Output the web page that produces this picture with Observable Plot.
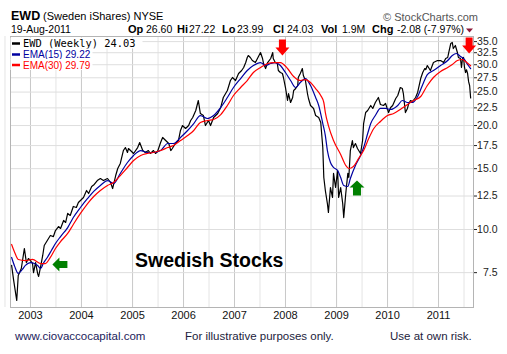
<!DOCTYPE html>
<html><head><meta charset="utf-8">
<script src="https://cdn.jsdelivr.net/npm/d3@7"></script>
<script src="https://cdn.jsdelivr.net/npm/@observablehq/plot@0.6"></script>
<style>
body{margin:0;background:#fff;}
#wrap{position:relative;width:507px;height:354px;overflow:hidden;}
</style></head><body><div id="wrap"></div>
<script>
// ---- data (dates as decimal years) ----
const priceDates = [
 2002.63,2002.67,2002.73,2002.76,2002.82,2002.88,2002.92,2002.96,
 2003.00,2003.04,2003.06,2003.10,2003.14,2003.16,2003.20,2003.24,2003.27,2003.33,2003.39,2003.45,2003.49,2003.55,2003.59,2003.65,2003.69,2003.73,2003.78,2003.84,2003.90,2003.94,2003.98,
 2004.04,2004.10,2004.14,2004.20,2004.25,2004.31,2004.37,2004.43,2004.51,2004.57,2004.61,2004.67,2004.71,2004.76,2004.82,2004.86,2004.90,2004.92,2004.96,
 2005.02,2005.10,2005.14,2005.20,2005.25,2005.31,2005.35,2005.41,2005.45,2005.49,2005.55,2005.59,2005.65,2005.71,2005.75,2005.78,2005.84,2005.90,2005.94,2005.98,
 2006.04,2006.10,2006.14,2006.18,2006.24,2006.29,2006.33,2006.39,2006.43,2006.49,2006.53,2006.59,2006.67,2006.73,2006.78,2006.86,2006.92,2006.96,
 2007.02,2007.08,2007.14,2007.18,2007.22,2007.25,2007.27,2007.31,2007.35,2007.41,2007.45,2007.51,2007.55,2007.57,2007.61,2007.65,2007.71,2007.75,2007.76,2007.80,2007.84,2007.86,2007.90,2007.94,2007.96,
 2008.00,2008.04,2008.06,2008.10,2008.14,2008.16,2008.20,2008.24,2008.25,2008.29,2008.33,2008.35,2008.39,2008.43,2008.45,2008.49,2008.53,2008.55,2008.59,2008.65,2008.69,2008.73,2008.75,2008.78,2008.82,2008.84,2008.88,2008.92,2008.94,2008.98,
 2009.02,2009.04,2009.08,2009.12,2009.14,2009.18,2009.22,2009.24,2009.27,2009.31,2009.33,2009.37,2009.41,2009.47,2009.51,2009.53,2009.57,2009.61,2009.67,2009.71,2009.76,2009.82,2009.86,2009.92,2009.96,
 2010.02,2010.06,2010.10,2010.16,2010.20,2010.25,2010.29,2010.31,2010.35,2010.39,2010.41,2010.45,2010.49,2010.55,2010.59,2010.65,2010.69,2010.73,2010.75,2010.78,2010.84,2010.90,2010.94,2010.98,
 2011.04,2011.10,2011.14,2011.18,2011.20,2011.24,2011.27,2011.29,2011.33,2011.37,2011.39,2011.43,2011.45,2011.47,2011.49,2011.51,2011.53,2011.55,2011.57,2011.59,2011.61,2011.63
];
const priceValues = [
 7.87,7.12,6.23,7.36,7.71,8.81,8.02,8.24,
 8.13,7.97,7.50,8.02,7.46,7.31,7.82,8.41,8.99,9.29,9.61,9.54,9.93,10.20,10.07,10.62,10.48,11.13,10.98,11.66,11.58,11.97,12.13,
 12.38,12.97,12.71,13.32,13.50,13.86,14.05,13.86,14.05,13.68,13.14,14.33,15.02,15.53,16.93,17.27,16.71,17.16,16.93,
 16.60,17.27,17.86,16.93,16.71,16.93,16.60,16.93,16.60,16.82,17.86,18.47,18.10,17.74,16.93,17.16,17.74,18.10,19.35,20.00,
 19.61,20.00,20.68,21.10,22.11,23.63,21.67,21.38,20.00,20.68,20.00,21.10,21.67,22.56,24.11,25.26,27.00,27.55,
 27.00,28.29,28.86,29.45,30.44,31.48,31.90,31.48,30.85,30.44,31.27,32.54,31.27,30.24,29.25,30.44,31.27,32.54,31.27,30.44,30.24,28.86,28.48,28.29,27.55,
 25.77,23.63,24.76,23.32,24.11,25.26,25.60,26.12,27.55,28.29,29.25,27.92,27.00,24.76,23.95,22.86,22.56,22.41,21.38,21.10,20.41,17.27,14.14,12.97,11.89,11.20,13.23,12.38,14.53,13.23,
 14.82,12.38,13.23,11.89,10.83,12.71,14.53,14.14,16.93,18.10,17.27,17.74,17.16,16.60,18.10,20.27,21.81,22.11,22.86,22.41,23.32,24.11,23.01,22.86,23.17,
 21.81,22.56,22.86,23.95,24.43,25.77,25.60,24.76,21.81,22.41,23.01,23.63,23.47,24.11,24.93,27.36,28.48,29.25,29.05,29.84,28.86,30.44,30.64,30.85,
 30.85,30.44,31.27,31.48,32.54,34.56,34.79,33.42,34.10,32.54,31.48,31.27,29.45,31.27,31.48,29.45,28.48,29.00,28.30,26.80,26.11,24.03
];
const ema15Dates = [
 2002.63,2002.69,2002.76,2002.84,2002.90,
 2003.00,2003.08,2003.14,2003.20,2003.25,2003.33,2003.41,2003.49,2003.59,2003.73,2003.84,2003.98,
 2004.12,2004.24,2004.37,2004.51,2004.63,2004.76,2004.90,
 2005.02,2005.16,2005.29,2005.41,2005.55,2005.69,2005.80,2005.94,
 2006.08,2006.20,2006.33,2006.47,2006.59,2006.73,2006.86,2006.98,
 2007.12,2007.25,2007.37,2007.51,2007.61,2007.71,2007.80,2007.90,
 2008.00,2008.10,2008.20,2008.29,2008.39,2008.49,2008.59,2008.65,2008.73,2008.78,2008.82,2008.88,2008.94,
 2009.02,2009.08,2009.14,2009.22,2009.27,2009.37,2009.47,2009.53,2009.61,2009.67,2009.76,2009.86,2009.96,
 2010.06,2010.20,2010.29,2010.39,2010.49,2010.59,2010.69,2010.78,2010.90,
 2011.04,2011.18,2011.27,2011.35,2011.43,2011.51,2011.57,2011.63
];
const ema15Values = [
 8.30,7.82,7.46,7.66,7.87,
 8.02,7.97,7.87,7.71,7.97,8.30,8.69,9.11,9.54,10.13,10.83,11.58,
 12.30,12.89,13.41,13.86,13.59,14.53,15.63,
 16.38,16.93,16.71,16.71,16.93,17.74,17.74,18.47,
 19.35,20.27,21.38,20.96,21.38,22.56,24.11,25.77,
 27.36,28.86,29.84,30.44,29.84,30.24,30.44,29.84,
 28.48,27.00,25.77,26.65,27.36,26.12,24.11,22.86,20.27,18.71,16.93,15.63,15.12,
 14.82,14.14,13.41,13.32,14.05,15.32,16.38,17.27,18.96,20.27,21.38,22.41,22.41,
 22.26,22.86,23.63,23.32,23.32,24.27,26.30,28.10,28.86,
 29.84,30.85,31.90,32.33,31.69,31.06,30.04,29.22
];
const ema30Dates = [
 2002.63,2002.69,2002.76,2002.90,
 2003.04,2003.20,2003.29,2003.39,2003.49,2003.59,2003.73,2003.84,2003.98,
 2004.12,2004.24,2004.37,2004.51,2004.63,2004.76,2004.90,
 2005.02,2005.16,2005.29,2005.41,2005.55,2005.69,2005.80,2005.94,
 2006.08,2006.20,2006.33,2006.47,2006.59,2006.73,2006.86,2006.98,
 2007.12,2007.25,2007.37,2007.51,2007.65,2007.76,2007.90,
 2008.04,2008.16,2008.29,2008.39,2008.49,2008.59,2008.69,2008.75,2008.78,2008.84,2008.94,
 2009.08,2009.18,2009.24,2009.33,2009.43,2009.53,2009.63,2009.73,2009.86,
 2010.00,2010.12,2010.25,2010.39,2010.51,2010.65,2010.78,2010.90,
 2011.04,2011.18,2011.27,2011.37,2011.47,2011.53,2011.63
];
const ema30Values = [
 9.05,8.58,8.19,8.13,
 8.19,7.97,7.97,8.30,8.81,9.23,9.74,10.34,11.13,
 11.89,12.46,12.97,13.41,13.68,14.33,15.12,
 15.84,16.38,16.60,16.71,16.93,17.27,17.51,18.10,
 18.71,19.35,20.41,20.68,20.82,21.52,22.86,24.43,
 25.77,27.00,28.48,29.45,30.24,30.44,30.44,
 29.25,27.73,27.00,27.18,26.65,25.60,24.43,23.32,21.81,20.00,18.10,
 16.49,15.32,15.02,15.22,16.05,16.93,18.34,19.61,20.55,
 21.38,21.67,22.26,23.01,23.63,24.27,26.12,27.55,
 28.67,29.45,30.04,30.85,31.06,30.64,29.79
];
const yTicks = [7.5,10,12.5,15,17.5,20,22.5,25,27.5,30,32.5,35];
const yearTicks = [2003,2004,2005,2006,2007,2008,2009,2010,2011];
const midYearTicks = [2002.5,2003.5,2004.5,2005.5,2006.5,2007.5,2008.5,2009.5,2010.5,2011.5];
const downArrowDates = [2007.94, 2011.60];
const downArrowValues = [31.9, 32.33];
const upArrowDates = [2009.40];
const upArrowValues = [13.86];
const leftArrowDates = [2003.43];
const leftArrowValues = [7.92];
const xDomain = [2002.608, 2011.686];
const yDomain = [5.945, 36.21];

// ---- helpers ----
const dy = t => { const y = Math.floor(t + 1e-9); const a = Date.UTC(y,0,1), b = Date.UTC(y+1,0,1); return new Date(a + (t - y) * (b - a)); };
const rows = (ts, vs) => ts.map((t, i) => ({date: dy(t), value: vs[i]}));

const downArrow = {draw(c){c.moveTo(0,0);c.lineTo(-7,-8);c.lineTo(-3.5,-8);c.lineTo(-3.5,-16);c.lineTo(3.5,-16);c.lineTo(3.5,-8);c.lineTo(7,-8);c.closePath();}};
const upArrow = {draw(c){c.moveTo(0,0);c.lineTo(-7.5,7);c.lineTo(-4,7);c.lineTo(-4,15);c.lineTo(4,15);c.lineTo(4,7);c.lineTo(7.5,7);c.closePath();}};
const leftArrow = {draw(c){c.moveTo(0,0);c.lineTo(7,-7);c.lineTo(7,-3.5);c.lineTo(15,-3.5);c.lineTo(15,3.5);c.lineTo(7,3.5);c.lineTo(7,7);c.closePath();}};

const FONT = "'Liberation Sans', Arial, sans-serif";

const svg = Plot.plot({
  width: 507, height: 354,
  marginLeft: 10, marginRight: 34, marginTop: 36, marginBottom: 47,
  style: {fontFamily: FONT, background: "#fff", overflow: "visible"},
  x: {type: "utc", domain: xDomain.map(dy)},
  y: {type: "log", domain: yDomain},
  marks: [
    Plot.ruleX(midYearTicks.map(dy), {stroke: "#e4e4e4"}),
    Plot.ruleX(yearTicks.map(dy), {stroke: "#c8c8c8"}),
    Plot.ruleY(yTicks, {stroke: "#dedede"}),
    Plot.frame({stroke: "#b4b4b4"}),
    Plot.axisY(yTicks, {anchor: "right", label: null, tickFormat: d => d.toFixed(1), tickSize: 3, tickPadding: 21, textAnchor: "end", fontSize: 10.5, color: "#222"}),
    Plot.axisX(yearTicks.map(dy), {label: null, tickFormat: d => String(d.getUTCFullYear()), tickSize: 0, tickPadding: 4, fontSize: 11, color: "#111"}),
    Plot.line(rows(priceDates, priceValues), {x: "date", y: "value", stroke: "#000", strokeWidth: 1.2}),
    Plot.line(rows(ema15Dates, ema15Values), {x: "date", y: "value", stroke: "#0000a0", strokeWidth: 1.2, curve: "monotone-x"}),
    Plot.line(rows(ema30Dates, ema30Values), {x: "date", y: "value", stroke: "#ff0000", strokeWidth: 1.2, curve: "monotone-x"}),
    Plot.dot(rows(downArrowDates, downArrowValues), {x: "date", y: "value", symbol: downArrow, fill: "#f00", stroke: "none", r: 5}),
    Plot.dot(rows(upArrowDates, upArrowValues), {x: "date", y: "value", symbol: upArrow, fill: "#008000", stroke: "none", r: 5}),
    Plot.dot(rows(leftArrowDates, leftArrowValues), {x: "date", y: "value", symbol: leftArrow, fill: "#008000", stroke: "none", r: 5})
  ]
});

const s = d3.select(svg);
function txt(x, y, str, opts = {}) {
  const t = s.append("text").attr("x", x).attr("y", y).text(str)
    .attr("font-family", opts.family || FONT).attr("font-size", opts.size || 11)
    .attr("fill", opts.fill || "#000").attr("text-anchor", opts.anchor || "start");
  if (opts.bold) t.attr("font-weight", "bold");
  return t;
}
// header
txt(11, 19.5, "EWD", {size: 12.5, bold: true});
txt(43, 19.5, "(Sweden iShares) NYSE", {size: 11});
txt(383, 20.5, "© StockCharts.com", {size: 11, fill: "#555"});
txt(11, 33, "19-Aug-2011", {size: 10.5});
const hdr = [[128,"Op",1],[146,"26.60",0],[177,"Hi",1],[189,"27.22",0],[222,"Lo",1],[237,"23.99",0],[273,"Cl",1],[287,"24.03",0],[321,"Vol",1],[342,"1.9M",0],[372,"Chg",1],[397,"-2.08 (-7.97%)",0]];
hdr.forEach(([x, t, b]) => txt(x, 33, t, {size: b ? 11 : 10.5, bold: !!b}));
s.append("path").attr("d", "M466,28.5L473,28.5L469.5,32.5Z").attr("fill", "#8b1a3a");

// legend
const leg = [
  {y: 43.5, w: 132, text: "EWD (Weekly) 24.03", color: "#000", tc: "#000", family: "'DejaVu Sans Mono', monospace", size: 10.4},
  {y: 54.5, w: 82, text: "EMA(15) 29.22", color: "#0000a0", tc: "#0000a0", family: FONT, size: 10},
  {y: 65, w: 82, text: "EMA(30) 29.79", color: "#ff0000", tc: "#ff0000", family: FONT, size: 10}
];
leg.forEach(l => {
  s.append("rect").attr("x", 10.5).attr("y", l.y - 6).attr("width", l.w).attr("height", 11).attr("fill", "#fff");
  s.append("line").attr("x1", 12).attr("x2", 20).attr("y1", l.y).attr("y2", l.y).attr("stroke", l.color).attr("stroke-width", 2.5);
  txt(23, l.y + 3.8, l.text, {size: l.size, fill: l.tc, family: l.family});
});

// annotation
txt(135, 267, "Swedish Stocks", {size: 19.5, bold: true});

// footer
txt(15, 339.5, "www.ciovaccocapital.com", {size: 11.5, fill: "#1c1c5c"});
txt(185, 339.5, "For illustrative purposes only.", {size: 11.5, fill: "#1c1c3c"});
txt(390, 339.5, "Use at own risk.", {size: 11.5, fill: "#1c1c3c"});

document.getElementById("wrap").appendChild(svg);
</script>
</body></html>
